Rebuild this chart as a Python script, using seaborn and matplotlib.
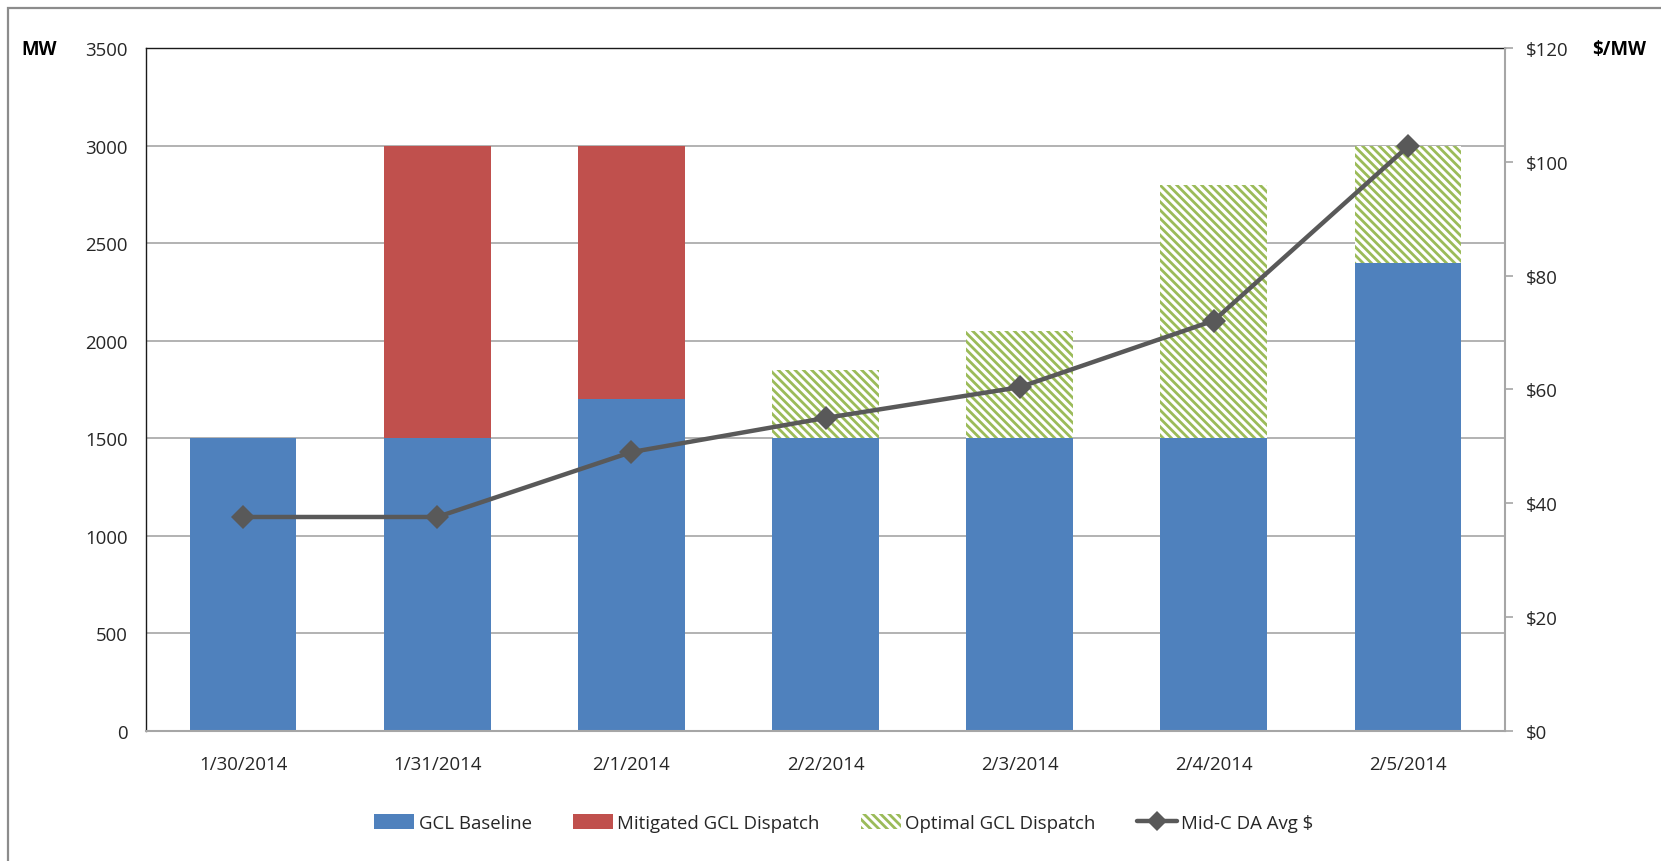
import matplotlib
matplotlib.use("Agg")
import matplotlib.pyplot as plt
from matplotlib.patches import Patch, Rectangle
from matplotlib.lines import Line2D
import pandas as pd
import seaborn as sns

# ---- data -------------------------------------------------------------
dates = ["1/30/2014", "1/31/2014", "2/1/2014", "2/2/2014",
         "2/3/2014", "2/4/2014", "2/5/2014"]
baseline_mw = [1500, 1500, 1700, 1500, 1500, 1500, 2400]
mitigated_mw = [0, 1500, 1300, 0, 0, 0, 0]
optimal_mw = [0, 0, 0, 350, 550, 1300, 600]
price_usd = [37.6, 37.6, 49.0, 55.0, 60.4, 72.1, 102.7]
mw_ticks = [0, 500, 1000, 1500, 2000, 2500, 3000, 3500]
price_ticks = [0, 20, 40, 60, 80, 100, 120]

# ---- styling ----------------------------------------------------------
BLUE = "#4F81BD"
RED = "#C0504D"
GREEN = "#9BBB59"
LINE = "#595959"
GRID = "#A6A6A6"
TEXT = "#262626"
HATCH = "\\\\\\\\"

sns.set_theme(style="white")
plt.rcParams["font.family"] = ["Open Sans", "DejaVu Sans"]
plt.rcParams["hatch.linewidth"] = 2.0
FS = 13.4

df = pd.DataFrame({
    "date": dates,
    "baseline": baseline_mw,
    "mitigated": mitigated_mw,
    "optimal": optimal_mw,
})
df["upper"] = df["baseline"] + df["mitigated"]
df["total"] = df["upper"] + df["optimal"]

fig = plt.figure(figsize=(16.61, 8.62), dpi=100)
ax = fig.add_axes([0.0879, 0.1508, 0.8182, 0.7924])

BW = 0.55
# stacked bars: draw cumulative totals back to front
sns.barplot(data=df, x="date", y="total", color="white", edgecolor=GREEN,
            hatch=HATCH, linewidth=0, width=BW, saturation=1, ax=ax)
sns.barplot(data=df, x="date", y="upper", color=RED, linewidth=0,
            width=BW, saturation=1, ax=ax)
sns.barplot(data=df, x="date", y="baseline", color=BLUE, linewidth=0,
            width=BW, saturation=1, ax=ax)

ax.set_ylim(0, 3500)
ax.set_yticks(mw_ticks)
ax.set_yticklabels([str(v) for v in mw_ticks])
ax.set_xlabel("")
ax.set_ylabel("")
ax.set_axisbelow(True)
ax.yaxis.grid(True, color=GRID, linewidth=1.2)
ax.xaxis.grid(False)
ax.tick_params(axis="y", length=0, pad=13, labelsize=FS, labelcolor=TEXT)
ax.tick_params(axis="x", length=0, pad=17, labelsize=FS, labelcolor=TEXT)
for side in ("left", "top"):
    ax.spines[side].set_color("#1a1a1a")
    ax.spines[side].set_linewidth(1.0)
ax.spines["bottom"].set_color(GRID)
ax.spines["bottom"].set_linewidth(1.5)
ax.spines["right"].set_visible(False)

# secondary axis: day-ahead price
ax2 = ax.twinx()
sns.lineplot(x=list(range(len(dates))), y=price_usd, color=LINE,
             linewidth=3.2, marker="D", markersize=12, markeredgewidth=0,
             ax=ax2)
ax2.set_ylim(0, 120)
ax2.set_yticks(price_ticks)
ax2.set_yticklabels([f"${v}" for v in price_ticks])
ax2.set_ylabel("")
ax2.tick_params(axis="y", direction="out", length=6, width=1.2, color=GRID,
                pad=9, labelsize=FS, labelcolor=TEXT, right=True)
for side in ("left", "top", "bottom"):
    ax2.spines[side].set_visible(False)
ax2.spines["right"].set_color(GRID)
ax2.spines["right"].set_linewidth(1.5)
ax.set_xlim(-0.5, len(dates) - 0.5)

# axis unit captions
fig.text(21 / 1661, 1 - 50 / 862, "MW", fontsize=FS, fontweight="bold",
         color="black", ha="left", va="center")
fig.text(1592 / 1661, 1 - 50 / 862, "$/MW", fontsize=FS, fontweight="bold",
         color="black", ha="left", va="center")

# legend
handles = [
    Patch(facecolor=BLUE, linewidth=0),
    Patch(facecolor=RED, linewidth=0),
    Patch(facecolor="white", edgecolor=GREEN, hatch=HATCH, linewidth=0),
    Line2D([0], [0], color=LINE, linewidth=3.2, marker="D", markersize=10,
           markeredgewidth=0),
]
labels = ["GCL Baseline", "Mitigated GCL Dispatch", "Optimal GCL Dispatch",
          "Mid-C DA Avg $"]
fig.legend(handles, labels, loc="center", bbox_to_anchor=(0.508, 0.044),
           ncol=4, frameon=False, fontsize=FS, handlelength=2.15,
           handleheight=0.85, handletextpad=0.25, columnspacing=2.2,
           labelcolor=TEXT)

# outer chart frame
fig.add_artist(Rectangle((8 / 1661, -0.1), 1.2, 1 - 9 / 862 + 0.1,
                         transform=fig.transFigure, fill=False,
                         edgecolor="#8C8C8C", linewidth=1.6, clip_on=False))

fig.savefig("out.png", dpi=100)
